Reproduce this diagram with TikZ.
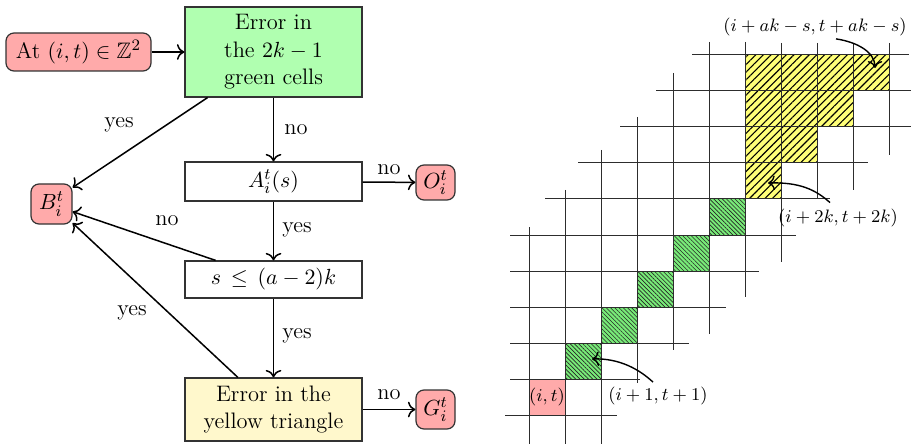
\documentclass[tikz,border=0pt]{standalone}
\usepackage{amssymb}
\usetikzlibrary{patterns.meta,calc,arrows.meta}
\definecolor{nodered}{RGB}{255,170,170}
\definecolor{boxgreen}{RGB}{176,255,176}
\definecolor{boxyellow}{RGB}{255,248,204}
\definecolor{cellyellow}{RGB}{255,255,120}
\definecolor{cellgreen}{RGB}{120,235,120}
\definecolor{gridcol}{RGB}{45,45,45}
\begin{document}
\begin{tikzpicture}[x=0.5pt,y=-0.5pt,
  bigfont/.style={font=\fontsize{11.2}{13.8}\selectfont},
  box/.style={draw=black!80, line width=0.6pt, minimum width=88.5pt, inner sep=2pt, align=center, bigfont},
  term/.style={draw=black!80, line width=0.6pt, fill=nodered, rounded corners=4pt, inner sep=2pt, bigfont},
  flow/.style={-{To[scale=1.15]}, line width=0.75pt},
  lab/.style={bigfont},
  gridline/.style={gridcol, line width=0.5pt},
  small/.style={font=\fontsize{8.6}{10}\selectfont, inner sep=1pt},
  pointer/.style={-{To[scale=1.1]}, line width=0.7pt},
  ]
\useasboundingbox (0,0) rectangle (911,444);

% ---------------- flowchart ----------------
\node[term, minimum width=72.5pt, minimum height=19pt] (start) at (78.5,52) {At $(i,t)\in\mathbb{Z}^2$};
\node[box, fill=boxgreen, minimum height=45pt] (green) at (273.5,52) {Error in\\the $2k-1$\\green cells};
\node[box, minimum height=19.5pt] (A) at (273.5,181.5) {$A_i^t(s)$};
\node[box, minimum height=18.5pt] (S) at (273.5,279.5) {$s\,\le\,(a-2)k$};
\node[box, fill=boxyellow, minimum height=31.5pt] (Y) at (273.5,409.5) {Error in the\\yellow triangle};
\node[term, minimum width=19.5pt, minimum height=17.5pt] (O) at (435.5,182.5) {$O_i^t$};
\node[term, minimum width=20.5pt, minimum height=20pt] (B) at (51.5,204) {$B_i^t$};
\node[term, minimum width=19.5pt, minimum height=19.5pt] (G) at (435.5,409.5) {$G_i^t$};

\draw[flow] (start) -- (green);
\draw[flow] (green) -- (A);
\draw[flow] (A) -- (O);
\draw[flow] (A) -- (S);
\draw[flow] (S) -- (Y);
\draw[flow] (Y) -- (G);
\draw[flow] ($(green.south west)!0.13!(green.south east)$) -- (B.38);
\draw[flow] ($(S.north west)!0.175!(S.north east)$) -- (B.-20);
\draw[flow] ($(Y.north west)!0.3!(Y.north east)$) -- (B.-42);

\node[lab] (l1) at (296,130) {no};
\node[lab] (l2) at (119,125) {yes};
\node[lab] (l3) at (389,170) {no};
\node[lab] (l4) at (297,230) {yes};
\node[lab] (l5) at (167,221) {no};
\node[lab] (l6) at (132,313) {yes};
\node[lab] (l7) at (297,336) {yes};
\node[lab] (l8) at (389,395) {no};

% ---------------- grid ----------------
\node[small, fill=nodered, minimum size=18pt, inner sep=0pt] (it) at (547,397) {$(i,t)$};
\foreach \c in {1,...,5}
  \fill[cellgreen, postaction={pattern={Lines[angle=-45,distance=1.5pt,line width=0.3pt]}, pattern color=black!85}]
    (529+36*\c,415-36*\c) rectangle ++(36,-36);
\fill[cellyellow, postaction={pattern={Lines[angle=45,distance=2.7pt,line width=0.55pt]}, pattern color=black}]
  (745,199) -- (745,55) -- (889,55) -- (889,91) -- (853,91) -- (853,127) -- (817,127) -- (817,163) -- (781,163) -- (781,199) -- cycle;

\foreach \y/\a/\b in {415/505/617, 379/510/640, 343/510/689, 307/510/726, 271/510/759,
                      235/510/796, 199/545/830, 163/578/868, 127/620/911, 91/656/911, 55/692/909}
  \draw[gridline] (\a,\y) -- (\b,\y);
\foreach \x/\a/\b in {529/227/444, 565/190/444, 601/150/444, 637/117/383, 673/73/350,
                      709/42/334, 745/42/297, 781/43/262, 817/43/198, 853/43/190, 889/43/155}
  \draw[gridline] (\x,\a) -- (\x,\b);

% ---------------- labels with pointers ----------------
\node[small] (L1) at (815,27.5) {$(i+ak-s,t+ak-s)$};
\node[small] (L2) at (838,218) {$(i+2k,t+2k)$};
\node[small] (L3) at (658,395.5) {$(i+1,t+1)$};
\coordinate (c1) at (875,68);
\coordinate (c2) at (768,183);
\coordinate (c3) at (592,359);
\draw[pointer] ([xshift=10.5pt]L1.south) .. controls (857,42) and (875,52) .. (c1);
\draw[pointer] ([xshift=-4pt,yshift=2pt]L2.north) .. controls (816,190) and (800,182) .. (c2);
\draw[pointer] ([xshift=-2.5pt,yshift=1pt]L3.north) .. controls (640,370) and (620,358) .. (c3);
\end{tikzpicture}
\end{document}
